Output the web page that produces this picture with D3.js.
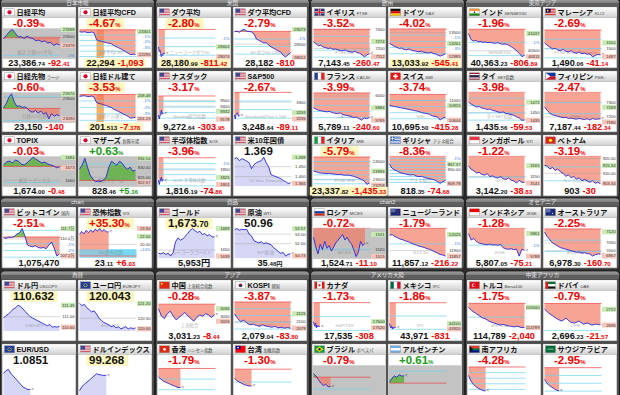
<!DOCTYPE html>
<html><head><meta charset="utf-8">
<script src="https://cdn.jsdelivr.net/npm/d3@7"></script>
<style>body{margin:0;background:#2c2c2c;overflow:hidden}svg{display:block}</style>
</head><body><script>
const sectionTitles=["日本市場","米国","欧州","東南アジア","chart","商品","chart2","オセアニア","為替","アジア","アメリカ大陸","中東アフリカ"];
const names=["日経平均","日経平均CFD","ダウ平均","ダウ平均CFD","イギリス","ドイツ","インド","マレーシア",
"日経先物","日経ドル建て","ナスダック","S&P500","フランス","スイス","タイ","フィリピン",
"TOPIX","マザーズ","半導体指数","米10年国債","イタリア","ギリシャ","シンガポール","ベトナム",
"ビットコイン","恐怖指数","ゴールド","原油","ロシア","ニュージーランド","インドネシア","オーストラリア",
"ドル円","ユーロ円","中国","KOSPI","カナダ","メキシコ","トルコ","ドバイ",
"EUR/USD","ドルインデックス","香港","台湾","ブラジル","アルゼンチン","南アフリカ","サウジアラビア"];
const subs=["","","","","FTSE","DAX","SENSEX30","KLCI",
"ラージ","","","","CAC40","SMI","SET指数","PSEi",
"","新興市場","SOX","","MIB","アテネ総合","STI","",
"国内","VIX","","WTI","MICEX","","JKSE","",
"USD/JPY","EUR/JPY","上海総合指数","韓国","","IPC","Borsa100","UAE",
"","","ハンセン指数","加権指数","ボベスパ","","",""];
const flags=["jp","jp","us","us","uk","de","in","my","jp","jp","us","us","fr","ch","th","ph",
"jp","jp","us","us","it","gr","sg","vn","us","us","us","us","ru","nz","id","au",
"us","eu","cn","kr","ca","mx","tr","ae","eu","us","hk","tw","br","ar","za","sa"];
const mains=["-0.39%","-4.67%","-2.80%","-2.79%","-3.52%","-4.02%","-1.96%","-2.69%",
"-0.60%","-3.53%","-3.17%","-2.67%","-3.99%","-3.74%","-3.98%","-2.47%",
"-0.03%","+0.63%","-3.96%","1.369","-5.79%","-8.36%","-1.22%","-3.19%",
"-2.51%","+35.30%","1,673|.70","50.96","-0.72%","-1.79%","-1.28%","-2.25%",
"110.632","120.043","-0.28%","-3.87%","-1.73%","-1.86%","-1.75%","-0.79%",
"1.0851","99.268","-1.79%","-1.30%","-0.79%","+0.61%","-4.28%","-2.95%"];
const mainColors=["r","r","r","r","r","r","r","r","r","r","r","r","r","r","r","r",
"r","g","r","k","r","r","r","r","r","r","k","k","r","r","r","r",
"k","k","r","r","r","r","r","r","k","k","r","r","r","g","r","r"];
const mainHilite=[1,2,9,20,25,26,32,33,41];
const bottomHilite=[1,2,5,9,20];
const values=["23,386.74","22,294","28,180.99","28,182","7,143.45","13,033.92","40,363.23","1,490.06",
"23,150","201.513","9,272.64","3,248.64","5,789.11","10,695.50","1,435.56","7,187.44",
"1,674.00","828.46","1,816.19","","23,337.82","818.35","3,142.20","903",
"1,075,470","23.11","5,953円","35.46円","1,524.71","11,857.12","5,807.05","6,978.30",
"","","3,031.23","2,079.04","17,535","43,971","114,789","2,696.23",
"","","","","","","",""];
const changes=["-92.41","-1,093","-811.42","-810","-260.47","-545.41","-806.89","-41.14",
"-140","-7.378","-303.95","-89.11","-240.60","-415.28","-59.53","-182.34",
"-0.48","+5.16","-74.86","","-1,435.33","-74.68","-38.83","-30",
"","+6.03","","","-11.10","-216.22","-75.21","-160.70",
"","","-8.44","-83.80","-308","-831","-2,040","-21.57",
"","","","","","","",""];
const grayCharts=[0,8,16,17,28,44,45];
const fillKinds=["ref","ref","ref","ref","ref","ref","ref","ref","ref","ref","ref","ref","ref","ref","ref","ref",
"ref","ref","ref","lav","ref","ref","ref","ref","ref","inv","lav","lav","ref","ref","ref","ref",
"lav","lav","ref","ref","ref","ref","ref","ref","lav","lav","ref","ref","ref","ref","ref","ref"];
const watermarks=["東証 日経225平均","日経平均CFD","ニューヨークダウ30","NYダウ30 CFD","FTSE100","DAX","SENSEX30","FTSE Bursa Malaysia",
"日経225先物","日経ドル建て","Nasdaq総合指数","Standard&Poor's 500","CAC40","SMI","タイSET指数","PSEi",
"東証 トピックス","東証マザーズ","SOX 半導体指数","10-Year Treasury","FTSE MIB","アテネ総合","STI","ベトナム VN",
"","VIX恐怖指数","ニューヨークゴールド","WTI原油","MICEX","NZX 50","JKSE","ASX 200",
"USD/JPY","EUR/JPY","上海総合","KOSPI","S&P/TSX","IPC","BIST100","DFM","","","","","","","",""];
const refs=[23479,23386,28992,28992,7404,13579,41170,1531.2,
23290,208.891,9576.6,3337.75,6029.7,11110.8,1495.1,7369.8,
1674.48,823.3,1891.05,null,24773,893.03,3181.03,933,
1103160,17.08,null,null,1535.81,12073.3,5882.3,7139,
null,null,3039.67,2162.84,17843,44802,116829,2717.8,
null,null,100,100,100,100,100,100];
const domains=[[23212,23605],[22150,23450],[28030,29030],[27975,29110],[7099,7414],[12942,13593],[40270,41200],[1485,1534],
[23030,23600],[200,209.6],[9127,9640],[3223,3338],[5746,6036],[10608,11150],[1431.5,1492],[7166,7367],
[1654,1685],[820.5,835.5],[1796,1896],[1.353,1.502],[23165,24813],[802,891],[3137,3178],[901.5,921.5],
[1068700,1117500],[16.6,24],[1635.4,1689.5],[50.52,53.6],[1514,1535.5],[11842,12074],[5782,5878],[6954,7143],
[110.45,111.6],[119.9,121.3],[3018,3042],[2070,2165],[17480,17860],[43850,44850],[114500,117000],[2690,2720],
[1.083,1.094],[98.8,99.5],[97.5,100.3],[98,100.3],[98.5,101],[99,101.5],[95,100.3],[96.5,100.3]];
const slots=[20,24,80,24,24,24,24,22, 22,24,80,80,22,22,22,22, 20,22,80,24,22,22,22,22,
22,26,24,24,26,22,22,22, 24,24,20,19,80,80,17,14, 24,24,24,24,24,24,24,24];
const series=[
[23465,23510,23560,23588,23540,23490,23495,23470,23500,23478,23470,23440,23450,23425,23440,23410,23420,23378,23400,23386],
[23300,23280,23301,23270,23260,23285,23250,22950,22900,22880,22850,22820,22800,22780,22700,22650,22600,22550,22480,22420,22360,22295,22320,22294],
[28402,28250,28300,28180,28074,28150,28120,28200,28170,28181],
[28980,29000,28960,29040,29073,29000,28990,28970,28900,28700,28650,28600,28550,28560,28480,28400,28350,28300,28250,28200,28080,28012,28100,28182],
[7274,7250,7230,7235,7215,7210,7200,7205,7190,7195,7185,7180,7175,7185,7170,7165,7160,7170,7155,7150,7130,7112,7135,7143],
[13261,13230,13200,13180,13150,13160,13130,13120,13140,13110,13100,13090,13080,13095,13070,13060,13050,13070,13040,13030,13000,12985,13010,13034],
[41037,40850,40800,40820,40780,40790,40760,40770,40750,40760,40740,40730,40750,40720,40700,40710,40690,40650,40600,40550,40480,40400,40311,40363],
[1510,1506,1503,1500,1501,1498,1497,1499,1496,1495,1497,1494,1493,1495,1492,1493,1491,1492,1487,1489,1491,1490],
[23300,23380,23500,23570,23420,23330,23340,23310,23320,23290,23230,23220,23250,23200,23240,23180,23210,23090,23190,23140,23170,23150],
[208.3,208.4,208.48,208.3,208.2,208.4,208.1,206.3,206,205.8,205.5,205.3,205,204.7,204.2,203.8,203.4,203,202.6,202.2,201.8,201.23,201.4,201.51],
[9250,9178,9230,9260,9332,9260,9280,9272],
[3250,3235,3250,3255,3259,3250,3245,3249],
[5884,5870,5860,5855,5850,5845,5850,5838,5832,5828,5835,5818,5812,5808,5800,5790,5795,5780,5765,5785,5780,5789],
[10915,10900,10890,10880,10870,10860,10850,10840,10830,10820,10810,10800,10780,10770,10760,10750,10720,10710,10700,10644,10680,10695],
[1472,1468,1465,1462,1463,1460,1459,1457,1458,1455,1454,1452,1451,1452,1449,1448,1447,1445,1442,1440,1435,1435.6],
[7269,7245,7225,7215,7210,7205,7200,7195,7198,7190,7192,7188,7185,7190,7186,7183,7188,7180,7190,7184,7186,7187],
[1676,1679,1680,1678,1681,1680,1677,1676,1678,1681,1684,1682,1680,1678,1679,1677,1676,1675,1673,1674],
[829,831,834.54,830,826,824,822.67,823,822.8,823.5,825,830,833,832,831,833,832,830,829,830,828,828.46],
[1815,1801,1810,1820,1825,1812,1818,1816],
[1.49,1.495,1.48,1.49,1.485,1.478,1.47,1.44,1.46,1.47,1.475,1.48,1.498,1.47,1.45,1.41,1.405,1.4,1.395,1.39,1.38,1.375,1.366,1.369],
[23994,23950,23900,23880,23870,23850,23870,23840,23820,23800,23810,23780,23760,23770,23740,23700,23650,23600,23520,23450,23258,23338],
[867.37,855,850,846,842,840,838,836,835,836,832,830,831,828,826,824,822,820,815,809.78,815,818.35],
[3165,3160,3158,3155,3156,3153,3152,3154,3150,3151,3149,3148,3150,3147,3146,3148,3145,3144,3141,3145,3142,3142.2],
[915.34,915,913,914,912,913,911,910,908,909,907,908,906,907,905,906,905,904,905,903.34,904,903],
[1102000,1101000,1103000,1102500,1104000,1108000,1110000,1117000,1105000,1090000,1088000,1087000,1089000,1086000,1085000,1086000,1084000,1090000,1095000,1085000,1072000,1075470],
[22.5,23.2,22.6,23.5,22.9,23.6,23.0,23.8,23.3,23.94,23.2,23.7,23.1,23.11],
[1644,1643,1645,1642,1644,1639,1645,1665,1672,1668,1670,1675,1680,1686,1689,1685,1682,1684,1678,1680,1676,1678,1674,1673.7],
[53.45,53.57,53.4,53.5,53.45,53.5,53.0,52.8,52.3,52.2,52.1,52.2,52.0,52.1,52.0,51.9,51.6,51.4,51.2,51.0,51.1,50.73,50.9,50.96],
[1529,1522,1517,1524,1520,1526,1521,1523,1519,1522,1525,1527,1529,1531,1527,1529,1526,1524,1520,1515,1518,1526,1523,1524.7],
[12020,12025,12010,12000,11990,11985,11975,11970,11960,11950,11945,11935,11930,11925,11915,11910,11900,11890,11880,11870,11865,11857],
[5861,5840,5845,5835,5830,5828,5826,5825,5827,5824,5825,5823,5826,5815,5812,5810,5812,5809,5811,5788,5810,5807],
[7120,7090,7070,7050,7040,7030,7020,7015,7010,7005,7000,6995,6990,6992,6985,6988,6982,6980,6967,6975,6980,6978.3],
[110.95,111.05,111.1,111.2,111.3,111.35,111.45,111.4,111.3,111.2,111.1,111.0,110.95,110.9,110.85,110.8,110.75,110.7,110.65,110.7,110.6,110.62,110.6,110.632],
[121.2,121.1,121.15,121.0,120.9,120.8,120.85,120.7,120.5,120.4,120.3,120.25,120.2,120.1,120.15,120.05,120.1,120.0,120.05,120.1,120.0,120.05,120.02,120.043],
[3036,3030,3028,3032,3034,3030,3027,3029,3031,3033,3030,3028,3026,3029,3031,3030,3032,3031,3029,3031.23],
[2125,2110,2100,2105,2095,2090,2092,2088,2085,2090,2086,2084,2082,2085,2080,2082,2079,2081,2079.04],
[17600,17560,17540,17580,17520,17550,17530,17545,17540,17535],
[44100,44000,43950,44020,43920,43980,43940,43960,43975,43971],
[116500,116200,116000,115800,115600,115500,115300,115200,115100,115000,115050,114950,114900,114850,114900,114800,114789],
[2712,2708,2705,2702,2700,2703,2699,2698,2700,2697,2698,2696,2697,2696.23],
[1.091,1.092,1.0925,1.091,1.09,1.089,1.088,1.087,1.086,1.0855,1.085,1.0851],
[98.9,99.0,99.05,99.1,99.15,99.2,99.25,99.3,99.28,99.27,99.26,99.268],
[99.2,99.0,98.8,98.7,98.6,98.5,98.4,98.3,98.2,98.21],
[99.3,99.1,99.0,98.9,98.8,98.75,98.7,98.7],
[100.3,100.1,99.8,99.5,99.3,99.4,99.2,99.21],
[100.1,100.4,100.6,100.5,100.7,100.6,100.61],
[98.5,97.5,96.9,96.5,96.2,96.0,95.8,95.72],
[98.5,98,97.7,97.5,97.3,97.1,97.05]];
const axisLabels=[
[[23588,"23588","h"],[23500,"23500",""],[23378,"23378","l"],[23245,"-1%","c"]],
[[23301,"23301","h"],[23152,"-1%","c"],[22918,"-2%","c"],[22684,"-3%","c"],[22295,"22295","l"]],
[[28702,"-1%","c"],[28402,"28402","h"],[28074,"28074","l"]],
[[29073,"29073","h"],[28702,"-1%","c"],[28500,"28500",""],[28012,"28012","l"]],
[[7400,"7400",""],[7274,"7274","h"],[7200,"7200",""],[7112,"7112","l"]],
[[13500,"13500",""],[13443,"-1%","c"],[13261,"13261","h"],[13172,"-3%","c"],[12985,"12985","l"]],
[[41037,"41037","h"],[40758,"-1%","c"],[40500,"40500",""],[40311,"40311","l"]],
[[1510,"1510","h"],[1500,"1500",""],[1487,"1487","l"]],
[[23570,"23570","h"],[23500,"23500",""],[23090,"23090","l"]],
[[208.48,"208.48","h"],[206.8,"-1%","c"],[204.71,"-2%","c"],[202.62,"-3%","c"],[201.23,"201.23","l"]],
[[9500,"9500",""],[9400,"9400",""],[9332,"9332","h"],[9178,"9178","l"]],
[[3300,"3300",""],[3259,"3259","h"],[3235,"3235","l"]],
[[6000,"6000",""],[5884,"5884","h"],[5765,"5765","l"]],
[[11000,"11000",""],[10915,"10915","h"],[10644,"10644","l"]],
[[1472,"1472","h"],[1450,"1450",""],[1435,"1435","l"]],
[[7300,"7300",""],[7269,"7269","h"],[7200,"7200",""],[7180,"7180","l"]],
[[1684,"1684","h"],[1673,"1673","l"],[1660,"1660",""]],
[[834.54,"834.54","h"],[830,"830.00",""],[825,"825.00",""],[822.67,"822.67","l"]],
[[1872,"-1%","c"],[1850,"1850",""],[1825,"1825","h"],[1801,"1801","l"]],
[[1.498,"1.498","h"],[1.45,"1.450",""],[1.4,"1.400",""],[1.366,"1.366","l"]],
[[24500,"24500",""],[23994,"23994","h"],[23500,"23500",""],[23258,"23258","l"]],
[[884.1,"-1%","c"],[867.37,"867.37","h"],[850,"850.00",""],[809.78,"809.78","l"]],
[[3165,"3165","h"],[3150,"3150",""],[3141,"3141","l"]],
[[920,"920.00",""],[915.34,"915.34","h"],[910,"910.00",""],[903.34,"903.34","l"]],
[[1117000,"111.7万","h"],[1100000,"110.0万",""],[1092100,"-1%","c"],[1081100,"-2%","c"],[1072000,"107.2万","l"]],
[[23.94,"23.94","l"],[22,"22.00","h"],[20,"20.00",""],[18.79,"+10%","c"]],
[[1689,"1689","h"],[1650,"1650",""],[1639,"1639","l"]],
[[53.57,"53.57","h"],[53,"53.00",""],[52,"52.00",""],[50.73,"50.73","l"]],
[[1531,"1531","h"],[1520,"1520",""],[1515,"1515","l"]],
[[12025,"12025","h"],[11952.6,"-1%","c"],[11900,"11900",""],[11857,"11857","l"]],
[[5861,"5861","h"],[5823.4,"-1%","c"],[5788,"5788","l"]],
[[7120,"7120","h"],[7050,"7050",""],[7000,"7000",""],[6967,"6967","l"]],
[[111.45,"111.45","h"],[111,"111.00",""],[110.6,"110.60","l"]],
[[121.2,"121.20","h"],[120.5,"120.50",""],[120,"120.00","l"]],
[[3036,"3036","h"],[3030,"3030",""],[3026,"3026","l"]],
[[2125,"2125","h"],[2100,"2100",""],[2079,"2079","l"]],
[[17600,"17600","h"],[17520,"17520","l"]],
[[44100,"44100","h"],[43920,"43920","l"]],
[[116500,"116500","h"],[114789,"114789","l"]],
[[2712,"2712","h"],[2696,"2696","l"]],
[],[],[],[],[],[],[],[]];
// bands: [slotStart, slotEnd, valueTop, valueBottom, colour]
const bands={1:[[7,10,23386,22150,"#f7a04a"]],9:[[7,10,208.891,200,"#f7a04a"]],25:[[13,25,18.79,17.08,"#7fe6f2"]]};

const rowTops=[7,71,135,207,280,344];
const groupX=[0,155,310,465];
const secTops=[-1,198,271], secRows=[[0,1,2],[3],[4,5]];
const TW=74, TH=61;

const svg=d3.select("body").append("svg").attr("width",620).attr("height",395)
  .style("font-family",'"Liberation Sans","Noto Sans CJK JP",sans-serif');
const defs=svg.append("defs");
function grad(id,a,b){const g=defs.append("linearGradient").attr("id",id).attr("x1",0).attr("y1",0).attr("x2",0).attr("y2",1);
 g.append("stop").attr("offset",0).attr("stop-color",a);g.append("stop").attr("offset",1).attr("stop-color",b);}
grad("tb","#ffffff","#d2d2d2");grad("hb","#9c9c9c","#5c5c5c");
svg.append("rect").attr("width",620).attr("height",395).attr("fill","#2c2c2c");

secTops.forEach((st,s)=>{
  const rs=secRows[s], last=rs[rs.length-1];
  const bottom=rowTops[last]+TH+2;
  groupX.forEach((gx,g)=>{
    svg.append("rect").attr("x",gx+0.5).attr("y",st).attr("width",154).attr("height",bottom-st).attr("rx",4).attr("fill","#4a4a4a").attr("stroke","#1c1c1c").attr("stroke-width",0.8);
    svg.append("rect").attr("x",gx+1).attr("y",st+0.5).attr("width",153).attr("height",7.5).attr("rx",3.5).attr("fill","url(#hb)");
    svg.append("rect").attr("x",gx+1).attr("y",st+4).attr("width",153).attr("height",4).attr("fill","#5e5e5e");
    svg.append("text").attr("x",gx+77.5).attr("y",st+6.4).attr("text-anchor","middle").attr("font-size",5.6).attr("fill","#e6e6e6").text(sectionTitles[s*4+g]);
  });
});

function drawFlag(G,code,x,y){
  const f=G.append("g").attr("transform",`translate(${x},${y})`);const w=10,h=7;
  const R=(a,b,c,d,col)=>f.append("rect").attr("x",a).attr("y",b).attr("width",c).attr("height",d).attr("fill",col);
  const C=(cx,cy,r,col)=>f.append("circle").attr("cx",cx).attr("cy",cy).attr("r",r).attr("fill",col);
  switch(code){
    case "jp":R(0,0,w,h,"#fff");C(5,3.5,2.1,"#d9002a");break;
    case "us":R(0,0,w,h,"#fff");for(let k=0;k<4;k++)R(0,k*1.8,w,0.9,"#c8324a");R(0,0,4.6,3.8,"#3c4a9a");break;
    case "uk":R(0,0,w,h,"#24307a");R(4,0,2,h,"#fff");R(0,2.5,w,2,"#fff");R(4.4,0,1.2,h,"#d22");R(0,2.9,w,1.2,"#d22");break;
    case "de":R(0,0,w,2.4,"#111");R(0,2.4,w,2.3,"#d00");R(0,4.7,w,2.3,"#fc0");break;
    case "fr":R(0,0,3.4,h,"#1e3c9c");R(3.4,0,3.3,h,"#fff");R(6.7,0,3.3,h,"#e22");break;
    case "ch":R(0,0,w,h,"#e11");R(4.2,1.2,1.6,4.6,"#fff");R(2.7,2.7,4.6,1.6,"#fff");break;
    case "it":R(0,0,3.4,h,"#119944");R(3.4,0,3.3,h,"#fff");R(6.7,0,3.3,h,"#d22");break;
    case "gr":R(0,0,w,h,"#2d62c0");for(let k=0;k<4;k++)R(0,0.8+k*1.6,w,0.8,"#fff");R(0,0,4,3.6,"#2d62c0");R(1.7,0,0.7,3.6,"#fff");R(0,1.5,4,0.7,"#fff");break;
    case "in":R(0,0,w,2.4,"#f93");R(0,2.4,w,2.3,"#fff");R(0,4.7,w,2.3,"#128807");C(5,3.5,0.8,"#008");break;
    case "my":R(0,0,w,h,"#fff");for(let k=0;k<4;k++)R(0,k*1.8,w,0.9,"#c00");R(0,0,5,3.8,"#010066");C(2.2,1.9,1,"#fc0");break;
    case "th":R(0,0,w,h,"#a51931");R(0,1.2,w,4.6,"#f4f5f8");R(0,2.3,w,2.4,"#2d2a4a");break;
    case "ph":R(0,0,w,3.5,"#0038a8");R(0,3.5,w,3.5,"#ce1126");f.append("path").attr("d","M0,0L5,3.5L0,7Z").attr("fill","#fff");break;
    case "sg":R(0,0,w,3.5,"#ef3340");R(0,3.5,w,3.5,"#fff");break;
    case "vn":R(0,0,w,h,"#da251d");C(5,3.5,1.6,"#ff0");break;
    case "ru":R(0,0,w,2.4,"#fff");R(0,2.4,w,2.3,"#0039a6");R(0,4.7,w,2.3,"#d52b1e");break;
    case "nz":R(0,0,w,h,"#1a2a78");R(0,0,5,3.5,"#5a66a8");C(7,2,0.5,"#d22");C(7.5,4.5,0.5,"#d22");break;
    case "id":R(0,0,w,3.5,"#e00");R(0,3.5,w,3.5,"#fff");break;
    case "au":R(0,0,w,h,"#1a2a78");R(0,0,5,3.5,"#6470b0");C(7,4.5,0.6,"#fff");break;
    case "cn":R(0,0,w,h,"#de2910");C(2.2,2,1,"#ffde00");break;
    case "kr":R(0,0,w,h,"#fff");C(5,3.5,1.8,"#c60c30");f.append("path").attr("d","M3.2,3.5A1.8,1.8 0 0 0 6.8,3.5Z").attr("fill","#003478");break;
    case "ca":R(0,0,w,h,"#fff");R(0,0,2.5,h,"#e11");R(7.5,0,2.5,h,"#e11");C(5,3.5,1.1,"#e11");break;
    case "mx":R(0,0,3.4,h,"#006847");R(3.4,0,3.3,h,"#fff");R(6.7,0,3.3,h,"#ce1126");break;
    case "tr":R(0,0,w,h,"#e30a17");C(4.2,3.5,1.8,"#fff");C(4.8,3.5,1.4,"#e30a17");break;
    case "ae":R(0,0,w,2.4,"#00732f");R(0,2.4,w,2.3,"#fff");R(0,4.7,w,2.3,"#111");R(0,0,2.6,h,"#e11");break;
    case "hk":R(0,0,w,h,"#de2910");C(5,3.5,1.4,"#fff");break;
    case "tw":R(0,0,w,h,"#fe0000");R(0,0,5,3.5,"#000095");C(2.5,1.75,0.9,"#fff");break;
    case "br":R(0,0,w,h,"#009c3b");f.append("path").attr("d","M5,0.8L9,3.5L5,6.2L1,3.5Z").attr("fill","#ffdf00");C(5,3.5,1.2,"#002776");break;
    case "ar":R(0,0,w,2.4,"#74acdf");R(0,2.4,w,2.3,"#fff");R(0,4.7,w,2.3,"#74acdf");break;
    case "za":R(0,0,w,3.5,"#e03c31");R(0,3.5,w,3.5,"#001489");R(0,2.6,w,1.8,"#007749");f.append("path").attr("d","M0,0L3.5,3.5L0,7Z").attr("fill","#111");break;
    case "sa":R(0,0,w,h,"#006c35");R(2,3,6,0.6,"#fff");break;
    case "eu":R(0,0,w,h,"#1d3fa0");C(5,3.5,1.9,"#fc0");C(5,3.5,1.4,"#1d3fa0");break;
  }
  f.append("rect").attr("width",w).attr("height",h).attr("fill","none").attr("stroke","#8a8a8a").attr("stroke-width",0.4);
}

function splitDec(s){const k=s.indexOf(".");return k<0?[s,""]:[s.slice(0,k),s.slice(k)];}
const colorOf={r:"#f00000",g:"#1b9a1b",k:"#111"};
function overlaps(a,b){return a.x<b.x+b.width&&b.x<a.x+a.width&&a.y<b.y+b.height&&b.y<a.y+a.height;}

function drawTile(i){
  const row=Math.floor(i/8), g=Math.floor((i%8)/2), c=i%2;
  const x=groupX[g]+2+c*76, y=rowTops[row];
  const G=svg.append("g").attr("transform",`translate(${x},${y})`);
  G.append("rect").attr("width",TW).attr("height",TH).attr("fill","#fff").attr("stroke","#6a6a6a").attr("stroke-width",0.6);
  G.append("rect").attr("x",0.3).attr("y",0.3).attr("width",TW-0.6).attr("height",10).attr("fill","url(#tb)");
  G.append("line").attr("x1",0).attr("x2",TW).attr("y1",10.4).attr("y2",10.4).attr("stroke","#9a9a9a").attr("stroke-width",0.5);
  drawFlag(G,flags[i],2.5,1.8);
  const tt=G.append("text").attr("x",14.5).attr("y",8.2).attr("font-weight","bold").attr("fill","#111");
  tt.append("tspan").attr("font-size",7.2).text(names[i]);
  if(subs[i]) tt.append("tspan").attr("font-size",4.2).attr("font-weight","normal").attr("fill","#444").attr("dx",1.5).text(subs[i]);

  const m=mains[i]; let big=m, small="";
  if(m.endsWith("%")){big=m.slice(0,-1);small="%";} else if(m.includes("|")){[big,small]=m.split("|");}
  const mt=G.append("text").attr("x",11).attr("y",20.3).attr("font-weight","bold").attr("fill",colorOf[mainColors[i]]);
  mt.append("tspan").attr("font-size",11.5).text(big);
  if(small) mt.append("tspan").attr("font-size",small==="%"?6:8.5).text(small);
  if(mainHilite.includes(i)){const bb=mt.node().getBBox();
    G.insert("rect",()=>mt.node()).attr("x",bb.x-2.5).attr("y",11.3).attr("width",bb.width+6).attr("height",10.5).attr("fill","#fff7bd");}

  const cx0=1.5,cx1=57.5,cy0=21.3,cy1=51;
  const ch=G.append("g");
  if(grayCharts.includes(i)) ch.append("rect").attr("x",0.4).attr("y",cy0).attr("width",TW-0.8).attr("height",cy1-cy0+0.8).attr("fill","#c3c3c3");
  const dom=domains[i], s=series[i], ref=refs[i];
  const xs=d3.scaleLinear().domain([0,slots[i]-1]).range([cx0,cx1]);
  const ys=d3.scaleLinear().domain(dom).range([cy1,cy0]).clamp(true);
  (bands[i]||[]).forEach(b=>{
    ch.append("rect").attr("x",xs(b[0])).attr("width",xs(b[1])-xs(b[0])).attr("y",ys(b[2])).attr("height",ys(b[3])-ys(b[2])).attr("fill",b[4]).attr("opacity",0.85);
  });
  const salmon="#f5735a", green="#4fb02c";
  if(fillKinds[i]==="lav"){
    ch.append("path").datum(s).attr("d",d3.area().x((d,k)=>xs(k)).y0(cy1).y1(d=>ys(d))).attr("fill","#d6d6f6");
  } else if(ref!=null){
    const yr=ys(ref), inv=fillKinds[i]==="inv";
    ch.append("path").datum(s).attr("d",d3.area().x((d,k)=>xs(k)).y0(yr).y1(d=>Math.min(ys(d),yr))).attr("fill",inv?salmon:green).attr("opacity",inv?0.65:0.75);
    ch.append("path").datum(s).attr("d",d3.area().x((d,k)=>xs(k)).y0(yr).y1(d=>Math.max(ys(d),yr))).attr("fill",inv?green:salmon).attr("opacity",inv?0.75:0.65);
  }
  axisLabels[i].forEach(([v,t,k])=>{ if(k==="") ch.append("line").attr("x1",cx0).attr("x2",cx1+1).attr("y1",ys(v)).attr("y2",ys(v)).attr("stroke","#9c9c9c").attr("stroke-width",0.4);});
  if(ref!=null && fillKinds[i]!=="lav"){
    for(let p=-9;p<=9;p++){ if(p===0) continue; const v=ref*(1+p/100);
      if(v>dom[0]&&v<dom[1]) ch.append("line").attr("x1",cx0).attr("x2",cx1+1).attr("y1",ys(v)).attr("y2",ys(v)).attr("stroke","#6fd3f2").attr("stroke-width",0.7);}
    if(ref>=dom[0]&&ref<=dom[1]) ch.append("line").attr("x1",cx0).attr("x2",cx1+1).attr("y1",ys(ref)).attr("y2",ys(ref)).attr("stroke","#ee4444").attr("stroke-width",0.7);
    else if(ref>dom[1]) ch.append("line").attr("x1",cx0).attr("x2",cx1+1).attr("y1",cy0).attr("y2",cy0).attr("stroke","#f08080").attr("stroke-width",0.7);
  }
  let wm=null;
  if(watermarks[i]) wm=ch.append("text").attr("x",(cx0+cx1)/2+3).attr("y",cy1-4).attr("text-anchor","middle").attr("font-size",4.4).attr("fill","#777").attr("opacity",0.55).text(watermarks[i]);
  ch.append("path").datum(s).attr("d",d3.line().x((d,k)=>xs(k)).y(d=>ys(d))).attr("fill","none").attr("stroke","#2626d6").attr("stroke-width",0.9);
  const ex=xs(s.length-1), ey=ys(s[s.length-1]);
  const mk=ch.append("text").attr("x",ex+1).attr("y",ey+1.5).attr("font-size",4.5).attr("fill","#444").text("<");

  const labs=axisLabels[i].map(([v,t,k])=>({t,k,y:ys(v)})).sort((a,b)=>a.y-b.y);
  const gap=5.1;
  for(let k=1;k<labs.length;k++) if(labs[k].y-labs[k-1].y<gap) labs[k].y=labs[k-1].y+gap;
  if(labs.length && labs[labs.length-1].y>cy1+1){labs[labs.length-1].y=cy1+1;
    for(let k=labs.length-2;k>=0;k--) if(labs[k+1].y-labs[k].y<gap) labs[k].y=labs[k+1].y-gap;}
  const labNodes=[];
  labs.forEach(({t,k,y:yy})=>{
    if(k==="h"||k==="l") ch.append("rect").attr("x",TW-15).attr("y",yy-2.5).attr("width",14.4).attr("height",5).attr("fill",k==="h"?"#c7ebb4":"#f8c6bc");
    labNodes.push(ch.append("text").attr("x",TW-1.5).attr("y",yy+1.5).attr("text-anchor","end").attr("font-size",4.2).attr("fill",k==="c"?"#3b7fd6":"#333").text(t).node());
  });
  const mb=mk.node().getBBox();
  if((wm && overlaps(mb,wm.node().getBBox())) || labNodes.some(n=>overlaps(mb,n.getBBox()))) mk.remove();

  if(values[i]||changes[i]){
    const bt=G.append("text").attr("x",37).attr("y",59.4).attr("text-anchor","middle").attr("font-weight","bold");
    const [vi,vd]=splitDec(values[i]);
    bt.append("tspan").attr("font-size",9.2).attr("fill","#111").text(vi);
    if(vd) bt.append("tspan").attr("font-size",6.2).attr("fill","#111").text(vd);
    if(changes[i]){const [ci,cd]=splitDec(changes[i]);
      bt.append("tspan").attr("font-size",9.2).attr("dx",3).attr("fill",colorOf[mainColors[i]]).text(ci);
      if(cd) bt.append("tspan").attr("font-size",6.2).attr("fill",colorOf[mainColors[i]]).text(cd);}
    if(bottomHilite.includes(i)){const bb=bt.node().getBBox();
      G.insert("rect",()=>bt.node()).attr("x",bb.x-2).attr("y",51.8).attr("width",bb.width+4).attr("height",8.6).attr("fill","#fff7bd");}
  }
}
for(let i=0;i<names.length;i++) drawTile(i);
</script></body></html>
